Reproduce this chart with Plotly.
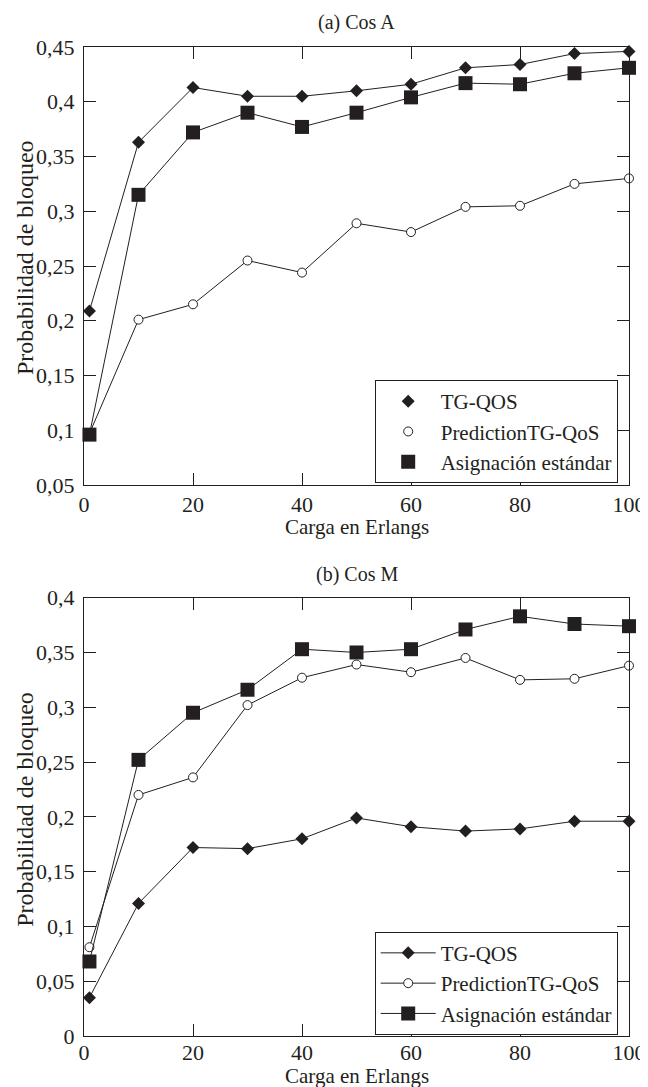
import plotly.graph_objects as go

# ---- data ----
carga = [1, 10, 20, 30, 40, 50, 60, 70, 80, 90, 100]

a_tgqos = [0.209, 0.363, 0.413, 0.405, 0.405, 0.410, 0.416, 0.431, 0.434, 0.444, 0.446]
a_pred = [0.097, 0.201, 0.215, 0.255, 0.244, 0.289, 0.281, 0.304, 0.305, 0.325, 0.330]
a_asig = [0.096, 0.315, 0.372, 0.390, 0.377, 0.390, 0.404, 0.417, 0.416, 0.426, 0.431]

m_tgqos = [0.035, 0.121, 0.172, 0.171, 0.180, 0.199, 0.191, 0.187, 0.189, 0.196, 0.196]
m_pred = [0.081, 0.220, 0.236, 0.302, 0.327, 0.339, 0.332, 0.345, 0.325, 0.326, 0.338]
m_asig = [0.068, 0.252, 0.295, 0.316, 0.353, 0.350, 0.353, 0.371, 0.383, 0.376, 0.374]

series_names = ["TG-QOS", "PredictionTG-QoS", "Asignación estándar"]

x_ticks = [0, 20, 40, 60, 80, 100]
ya_ticks = [0.05, 0.10, 0.15, 0.20, 0.25, 0.30, 0.35, 0.40, 0.45]
ya_labels = ["0,05", "0,1", "0,15", "0,2", "0,25", "0,3", "0,35", "0,4", "0,45"]
ym_ticks = [0, 0.05, 0.10, 0.15, 0.20, 0.25, 0.30, 0.35, 0.40]
ym_labels = ["0", "0,05", "0,1", "0,15", "0,2", "0,25", "0,3", "0,35", "0,4"]

INK = "#231f20"
FONT = "Liberation Serif"

markers = [
    dict(symbol="diamond", size=10, color=INK),
    dict(symbol="circle", size=9, color="white", line=dict(color=INK, width=1)),
    dict(symbol="square", size=14, color=INK),
]

fig = go.Figure()

# top panel: connecting lines (not in legend) + markers (legend shows markers only)
for ys in [a_tgqos, a_pred, a_asig]:
    fig.add_trace(go.Scatter(x=carga, y=ys, mode="lines", line=dict(color=INK, width=1),
                             showlegend=False, xaxis="x", yaxis="y", cliponaxis=False,
                             hoverinfo="skip"))
for ys, name, mk in zip([a_tgqos, a_pred, a_asig], series_names, markers):
    fig.add_trace(go.Scatter(x=carga, y=ys, mode="markers", marker=mk, name=name,
                             xaxis="x", yaxis="y", cliponaxis=False, legend="legend"))

# bottom panel: lines+markers
for ys, name, mk in zip([m_tgqos, m_pred, m_asig], series_names, markers):
    fig.add_trace(go.Scatter(x=carga, y=ys, mode="lines+markers", marker=mk, name=name,
                             line=dict(color=INK, width=1),
                             xaxis="x2", yaxis="y2", cliponaxis=False, legend="legend2"))

# page has an 8px body margin -> figure is 8px smaller than window
W, H = 640, 1079
L, R, T, B = 76, 19, 39, 51
pw = W - L - R
ph = H - T - B
bottom_px = H - B  # fig px of the lowest axis line


def py(px):
    return (bottom_px - px) / ph


def pxx(px):
    return (px - L) / pw


top_lo = py(477)
bot_hi = py(589.7)

axis_common = dict(showline=True, linecolor=INK, linewidth=1, mirror="allticks",
                   ticks="inside", ticklen=12, tickcolor=INK, showgrid=False, zeroline=False,
                   automargin=False,
                   tickfont=dict(family=FONT, size=22, color=INK))

legend_common = dict(bgcolor="white", bordercolor=INK, borderwidth=1, itemwidth=55,
                     font=dict(family=FONT, size=21, color=INK), xanchor="right",
                     yanchor="top", x=pxx(609.7))

fig.update_layout(
    width=W, height=H,
    margin=dict(l=L, r=R, t=T, b=B),
    paper_bgcolor="white", plot_bgcolor="white",
    font=dict(family=FONT, size=21, color=INK),
    showlegend=True,
    xaxis=dict(domain=[0, 1], anchor="y", range=[0, 100], tickvals=x_ticks, **axis_common),
    yaxis=dict(domain=[top_lo, 1], anchor="x", range=[0.05, 0.45], tickvals=ya_ticks,
               ticktext=ya_labels, ticklabelstandoff=4, **axis_common),
    xaxis2=dict(domain=[0, 1], anchor="y2", range=[0, 100], tickvals=x_ticks,
                ticklabelstandoff=-3, **axis_common),
    yaxis2=dict(domain=[0, bot_hi], anchor="x2", range=[0, 0.4], tickvals=ym_ticks,
                ticktext=ym_labels, ticklabelstandoff=4, **axis_common),
    legend=dict(y=py(372), **legend_common),
    legend2=dict(y=py(923.7), **legend_common),
    annotations=[
        dict(text="(a) Cos A", xref="paper", yref="paper", x=0.5, y=py(14.5),
             showarrow=False, font=dict(family=FONT, size=20, color=INK), yanchor="middle"),
        dict(text="(b) Cos M", xref="paper", yref="paper", x=0.5, y=py(566),
             showarrow=False, font=dict(family=FONT, size=20, color=INK), yanchor="middle"),
        dict(text="Carga en Erlangs", xref="paper", yref="paper", x=0.5, y=py(519),
             showarrow=False, font=dict(family=FONT, size=21, color=INK), yanchor="middle"),
        dict(text="Carga en Erlangs", xref="paper", yref="paper", x=0.5, y=py(1068),
             showarrow=False, font=dict(family=FONT, size=21, color=INK), yanchor="middle"),
        dict(text="Probabilidad de bloqueo", xref="paper", yref="paper", x=pxx(17), y=py(250),
             showarrow=False, textangle=-90, font=dict(family=FONT, size=24, color=INK),
             xanchor="center", yanchor="middle"),
        dict(text="Probabilidad de bloqueo", xref="paper", yref="paper", x=pxx(17), y=py(801.8),
             showarrow=False, textangle=-90, font=dict(family=FONT, size=24, color=INK),
             xanchor="center", yanchor="middle"),
    ],
)

fig.write_html("out.html", post_script="document.body.style.overflow='hidden';")
